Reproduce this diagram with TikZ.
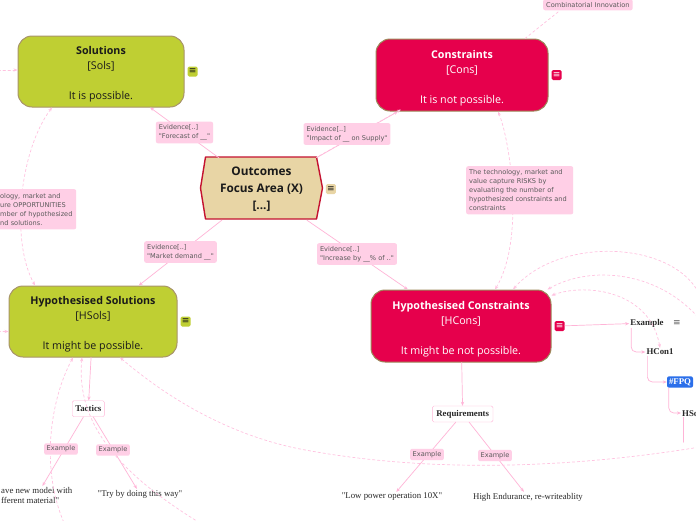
\documentclass[tikz,border=0pt]{standalone}
\usepackage{fontspec}
\setmainfont{Open Sans}
\newfontfamily\notefont{DejaVu Sans}
\newfontfamily\leaffont{Liberation Serif}
\usetikzlibrary{arrows.meta,positioning}
\definecolor{solgreen}{RGB}{191,207,51}
\definecolor{solframe}{RGB}{168,148,106}
\definecolor{solink}{RGB}{26,26,26}
\definecolor{conred}{RGB}{230,0,76}
\definecolor{conframe}{RGB}{156,138,90}
\definecolor{hextan}{RGB}{232,213,165}
\definecolor{hexred}{RGB}{196,18,48}
\definecolor{notepink}{RGB}{255,207,230}
\definecolor{notegrey}{RGB}{90,90,90}
\definecolor{connpink}{RGB}{255,180,215}
\definecolor{relpink}{RGB}{255,194,224}
\definecolor{leafink}{RGB}{40,40,40}
\definecolor{fpqblue}{RGB}{43,111,234}
\newcommand{\topgap}{\rule{0pt}{14pt}}
\begin{document}
\begin{tikzpicture}[x=1pt,y=-1pt,line join=round,line cap=round,>={Stealth[length=4pt,width=3.2pt]}]
    \tikzset{
        mainbox/.style={rounded corners=14pt,line width=1pt,align=center,inner sep=0pt,font=\fontsize{10.7}{15}\selectfont},
        solbox/.style={mainbox,fill=solgreen,draw=solframe,text=solink},
        conbox/.style={mainbox,fill=conred,draw=conframe,text=white},
        icon/.style={minimum size=10pt,inner sep=0pt,rounded corners=1.5pt,font=\notefont\fontsize{9}{9}\selectfont},
        note/.style={fill=notepink,rounded corners=2pt,text=notegrey,align=left,inner sep=3pt,font=\notefont\fontsize{6.6}{9}\selectfont},
        leaf/.style={text=leafink,inner sep=1pt,align=left,font=\leaffont\fontsize{8.8}{10.5}\selectfont},
        leafbold/.style={leaf,font=\leaffont\bfseries\fontsize{8.8}{10}\selectfont},
        leafbox/.style={leafbold,draw=connpink,fill=white,rounded corners=1.5pt,inner ysep=3.5pt,minimum height=16pt},
        conn/.style={draw=connpink,line width=0.7pt,->},
        rel/.style={draw=relpink,line width=0.7pt,dash pattern=on 2.5pt off 2.5pt}
    }
    \useasboundingbox (0,0) rectangle (696,520);
    \clip (0,0) rectangle (696,520);
    \fill[white] (0,0) rectangle (696,520);
    % main topics
    \node[solbox,minimum width=166pt,minimum height=71pt] (sols) at (101,71.5) {\topgap\textbf{Solutions}\\{[Sols]}\\[15pt]It is possible.};
    \node[conbox,minimum width=172pt,minimum height=72pt] (cons) at (462,75) {\topgap\textbf{Constraints}\\{[Cons]}\\[15pt]It is not possible.};
    \node[solbox,minimum width=168pt,minimum height=71pt] (hsols) at (93,321.5) {\topgap\textbf{Hypothesised Solutions}\\{[HSols]}\\[15pt]It might be possible.};
    \node[conbox,minimum width=180pt,minimum height=72pt] (hcons) at (461,326) {\topgap\textbf{Hypothesised Constraints}\\{[HCons]}\\[15pt]It might be not possible.};
    % central hexagon
    \filldraw[fill=hextan,draw=hexred,line width=1.4pt] (200.5,188) -- (205.5,157) -- (316.5,157) -- (322.5,188) -- (316.5,219) -- (205.5,219) -- cycle;
    \node[text=solink,align=center,inner sep=0pt,minimum width=122pt,minimum height=62pt,font=\bfseries\fontsize{11.8}{17}\selectfont] (out) at (261.5,189) {Outcomes\\Focus Area (X)\\{[...]}};
    % note icons
    \node[icon,fill=solgreen,text=solink,right=3pt of sols] (solsicon) {≡};
    \node[icon,fill=conred,text=white,right=3pt of cons] (consicon) {≡};
    \node[icon,fill=hextan,text=solink,right=3pt of out] (outicon) {≡};
    \node[icon,fill=solgreen,text=solink,right=3pt of hsols] (hsolsicon) {≡};
    \node[icon,fill=conred,text=white,right=3pt of hcons] (hconsicon) {≡};
    % sub topics
    \node[leafbox,inner xsep=3pt] (tac) at (88.3,408.7) {Tactics};
    \node[leafbox,inner xsep=4pt] (req) at (462.7,414) {Requirements};
    \node[leaf,anchor=west] (newmodel) at (0,495.5) {ave new model with\\fferent material"};
    \node[leaf] (tryway) at (140,494) {"Try by doing this way"};
    \node[leaf] (lowpow) at (392,497) {"Low power operation 10X"};
    \node[leaf] (highend) at (528,497) {High Endurance, re-writeablity};
    \node[leafbold] (ex) at (647,323) {Example};
    \node[leaf,text=notegrey,font=\notefont\fontsize{9}{9}\selectfont] (exicon) at (677,323) {≡};
    \node[leafbold] (hcon1) at (660,352) {HCon1};
    \node[leafbold,fill=fpqblue,text=white,rounded corners=2pt,inner sep=2pt] (fpq) at (680,382) {\#FPQ};
    \node[leafbold,anchor=west] (hsol1) at (681,413) {HSol1};
    \node[note,anchor=north west] (comb) at (543,-1) {Combinatorial Innovation};
    % connectors
    \draw[conn] (out) -- (sols);
    \draw[conn] (out) -- (cons);
    \draw[rel,->,transform canvas={xshift=3pt,yshift=2pt}] (out) -- (cons);
    \draw[conn] (out) -- (hsols);
    \draw[conn] (out) -- (hcons);
    \draw[conn] (hsols) -- (tac);
    \draw[conn] (hcons) -- (req);
    \draw[conn] (tac) -- (newmodel);
    \draw[conn] (tac) -- (tryway);
    \draw[conn] (req) -- (lowpow);
    \draw[conn] (req) -- (highend);
    \draw[conn] (hconsicon) -- (ex);
    \draw[conn,rounded corners=5pt] ([xshift=2pt]ex.south west) |- (hcon1);
    \draw[conn,rounded corners=5pt] ([xshift=2pt]hcon1.south west) |- (fpq);
    \draw[conn,rounded corners=5pt] ([xshift=2pt]fpq.south west) |- (hsol1);
    \draw[conn,-] ([xshift=2pt]hsol1.south west) -- ++(0,25);
    % relations
    \coordinate (solsin) at (-2,70);
    \coordinate (hsolsin) at (-2,331.5);
    \draw[rel,->] (solsin) -- (sols.west |- solsin);
    \draw[rel,->] (hsolsin) -- (hsols.west |- hsolsin);
    \draw[rel,<->] ([xshift=-49pt]sols.south) .. controls (20,150) and (10,240) .. ([xshift=-58pt]hsols.north);
    \draw[rel,<->] ([xshift=36pt]cons.south) .. controls (510,140) and (525,240) .. ([xshift=34pt]hcons.north);
    \draw[rel] ([xshift=63pt]cons.north) -- ([xshift=-28pt]comb.south);
    \draw[rel,<-] ([xshift=52pt]hcons.north) .. controls (560,235) and (680,240) .. (702,300);
    \draw[rel,<-] ([xshift=-4pt]hcons.north east) .. controls (590,265) and (660,270) .. (702,322);
    \draw[rel,<->] ([yshift=-6pt]hcons.north east) .. controls (585,283) and (650,290) .. (hcon1.north);
    \draw[rel,<-] ([xshift=-20pt]hsols.south) .. controls (50,400) and (40,470) .. (65,525);
    \draw[rel,<-] ([xshift=-11pt]hsols.south) .. controls (75,430) and (130,480) .. (200,523);
    \draw[rel,<-] ([xshift=27pt]hsols.south) .. controls (170,400) and (230,435) .. (300,449) .. controls (420,472) and (560,470) .. (700,447);
    % labels
    \node[note] (evfore) at (184.5,132.5) {Evidence[..]\\"Forecast of \_\_"};
    \node[note] (evimp) at (347,134) {Evidence[..]\\"Impact of \_\_ on Supply"};
    \node[note] (evmark) at (180.5,252) {Evidence[..]\\"Market demand \_\_"};
    \node[note] (evinc) at (357,254) {Evidence[..]\\"Increase by \_\_\% of .."};
    \node[note,anchor=north west,text width=73pt,inner ysep=4pt] (oppnote) at (-3,189) {ology, market and\\ure OPPORTUNITIES\\mber of hypothesized\\nd solutions.};
    \node[note,anchor=north west,text width=101pt,inner ysep=3.5pt] (risknote) at (466,166) {The technology, market and\\value capture RISKS by\\evaluating the number of\\hypothesized constraints and\\constraints};
    \foreach \nm/\px/\py in {extl/61/449,extr/113/450,exrl/427/454.5,exrr/495/455.5}
        \node[note,inner sep=2.5pt] (\nm) at (\px,\py) {Example};
\end{tikzpicture}
\end{document}
